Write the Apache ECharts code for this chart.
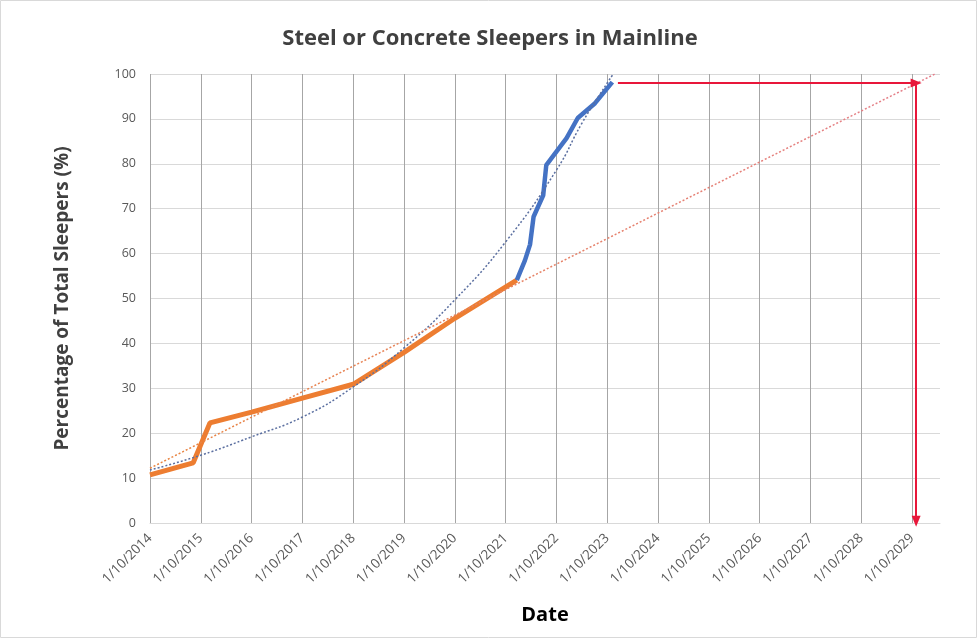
<!DOCTYPE html>
<html>
<head>
<meta charset="utf-8">
<script src="https://cdn.jsdelivr.net/npm/echarts@6/dist/echarts.min.js"></script>
<style>
  html, body { margin: 0; padding: 0; background: #fff; }
  #chart { width: 980px; height: 641px; }
</style>
</head>
<body>
<div id="chart"></div>
<script>
// x values are years counted from 1/10/2014
const xTickLabels = ['1/10/2014', '1/10/2015', '1/10/2016', '1/10/2017', '1/10/2018', '1/10/2019',
  '1/10/2020', '1/10/2021', '1/10/2022', '1/10/2023', '1/10/2024', '1/10/2025', '1/10/2026',
  '1/10/2027', '1/10/2028', '1/10/2029']

// orange (historic) line
const orangeX = [0, 0.85, 1.18, 2.0, 3.0, 4.0, 5.0, 6.0, 7.22]
const orangeY = [10.7, 13.4, 22.3, 24.7, 27.8, 30.9, 38.0, 45.6, 54.1]

// blue (recent) line
const blueX = [7.22, 7.38, 7.48, 7.55, 7.74, 7.8, 8.2, 8.42, 8.76, 9.1]
const blueY = [54.1, 58.5, 62.0, 68.2, 73.0, 79.7, 85.7, 90.2, 93.5, 98.2]

// blue dotted polynomial trend
const polyX = [0, 1, 2, 3, 4, 5, 6, 7, 8, 8.5, 9.0, 9.12]
const polyY = [11.8, 15.1, 19.2, 23.6, 30.3, 39.0, 49.7, 62.6, 78.6, 89.0, 98.0, 100]

// orange dotted linear trend
const linX = [0, 15.45]
const linY = [12.2, 100]

// red arrows
const arrowH = [[9.21, 98], [15.08, 98]]
const arrowV = [[15.08, 98], [15.08, 0.4]]

const zip = (xs, ys) => xs.map((x, i) => [x, ys[i]])

const font = 'Open Sans'
const chart = echarts.init(document.getElementById('chart'))

chart.setOption({
  animation: false,
  title: {
    text: 'Steel or Concrete Sleepers in Mainline',
    left: 'center',
    top: 23,
    textStyle: { fontFamily: font, fontSize: 22, fontWeight: 'bold', color: '#404040' }
  },
  graphic: [{
    type: 'rect',
    shape: { x: 0.5, y: 0.5, width: 976, height: 637 },
    style: { fill: 'none', stroke: '#d9d9d9', lineWidth: 1 },
    silent: true
  }],
  grid: { left: 150, right: 40, top: 74, bottom: 118 },
  xAxis: {
    type: 'value',
    min: 0,
    max: 15.55,
    interval: 1,
    name: 'Date',
    nameLocation: 'middle',
    nameGap: 82,
    nameTextStyle: { fontFamily: font, fontSize: 20, fontWeight: 'bold', color: '#000' },
    axisLine: { show: true, lineStyle: { color: '#d9d9d9' } },
    axisTick: { show: false },
    axisLabel: {
      rotate: 45,
      margin: 13,
      showMaxLabel: false,
      fontFamily: font,
      fontSize: 13.5,
      color: '#595959',
      formatter: v => (Number.isInteger(v) && xTickLabels[v]) || ''
    },
    splitLine: { show: true, showMaxLine: false, lineStyle: { color: '#a6a6a6', width: 1 } }
  },
  yAxis: {
    type: 'value',
    min: 0,
    max: 100,
    interval: 10,
    name: 'Percentage of Total Sleepers (%)',
    nameLocation: 'middle',
    nameGap: 78,
    nameTextStyle: { fontFamily: font, fontSize: 19, fontWeight: 'bold', color: '#404040' },
    axisLine: { show: false },
    axisTick: { show: false },
    axisLabel: { fontFamily: font, fontSize: 12.5, color: '#595959', margin: 14 },
    splitLine: { lineStyle: { color: '#d9d9d9', width: 1 } }
  },
  series: [
    {
      name: 'Historic',
      type: 'line',
      data: zip(orangeX, orangeY),
      symbol: 'none',
      lineStyle: { color: '#ED7D31', width: 5 },
      z: 3
    },
    {
      name: 'Recent',
      type: 'line',
      data: zip(blueX, blueY),
      symbol: 'none',
      lineStyle: { color: '#4472C4', width: 4.5 },
      z: 3
    },
    {
      name: 'Poly. trend',
      type: 'line',
      data: zip(polyX, polyY),
      smooth: true,
      symbol: 'none',
      lineStyle: { color: '#5B6FA0', width: 1.5, type: [2, 2] },
      z: 4
    },
    {
      name: 'Linear trend',
      type: 'line',
      data: zip(linX, linY),
      symbol: 'none',
      lineStyle: {
        width: 1.5,
        type: [2, 2],
        color: new echarts.graphic.LinearGradient(0, 0, 1, 0, [
          { offset: 0, color: '#E8843F' },
          { offset: 1, color: '#E47F8C' }
        ])
      },
      z: 4
    },
    {
      name: 'Arrows',
      type: 'line',
      data: [],
      markLine: {
        silent: true,
        symbol: ['none', 'triangle'],
        symbolSize: [9, 11],
        label: { show: false },
        lineStyle: { color: '#E8173A', width: 2, type: 'solid' },
        data: [
          [{ coord: arrowH[0] }, { coord: arrowH[1] }],
          [{ coord: arrowV[0] }, { coord: arrowV[1] }]
        ]
      },
      z: 5
    }
  ]
})
</script>
</body>
</html>
